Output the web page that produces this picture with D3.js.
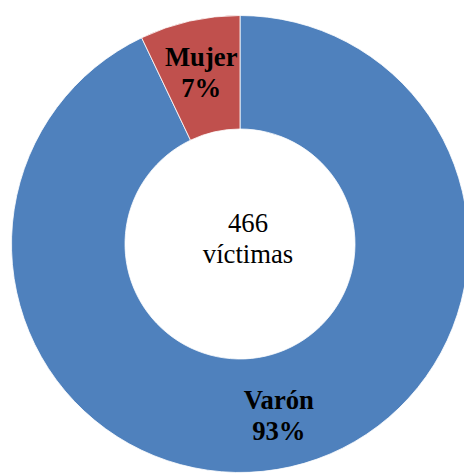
<!DOCTYPE html>
<html>
<head>
<meta charset="utf-8">
<script src="https://cdn.jsdelivr.net/npm/d3@7"></script>
<style>
	html, body { margin: 0; padding: 0; background: #fff; overflow: hidden; }
	svg { display: block; }
</style>
</head>
<body>
<svg id="donut" width="464" height="473"></svg>
<script>
// data
const categories = ["Varón", "Mujer"];
const victims = [433, 33];
const percentLabels = ["93%", "7%"];
const centerLines = ["466", "víctimas"];
const colors = ["#4F81BD", "#C0504D"];

const width = 464, height = 473;
const cx = 240, cy = 244;
const outerR = 228.5, innerR = 115;
const serif = "'Liberation Serif', 'Times New Roman', 'DejaVu Serif', serif";

const svg = d3.select("svg#donut");
const g = svg.append("g").attr("transform", `translate(${cx},${cy})`);

const rows = categories.map((c, i) => ({ name: c, value: victims[i], pct: percentLabels[i], color: colors[i] }));

// excel style: starts at 12 o'clock, clockwise, no sorting
const pie = d3.pie().sort(null).value((d) => d.value);
const arc = d3.arc().innerRadius(innerR).outerRadius(outerR);
const labelArc = d3.arc().innerRadius(outerR * 0.77).outerRadius(outerR * 0.77);

const arcs = pie(rows);

g.selectAll("path.slice")
	.data(arcs)
	.join("path")
	.classed("slice", true)
	.attr("d", arc)
	.style("fill", (d) => d.data.color)
	.style("stroke", "#fff")
	.style("stroke-width", 0.8);

// two line labels, name then percent
const labels = g.selectAll("text.slice-label")
	.data(arcs)
	.join("text")
	.classed("slice-label", true)
	.attr("font-family", serif)
	.attr("font-weight", "bold")
	.attr("font-size", 26.7)
	.attr("fill", "#000")
	.attr("text-anchor", "middle")
	.attr("transform", (d) => {
		let [x, y] = labelArc.centroid(d);
		return `translate(${x} ${y})`;
	});
labels.append("tspan").attr("x", 0).attr("y", -6.5).text((d) => d.data.name);
labels.append("tspan").attr("x", 0).attr("y", 24.5).text((d) => d.data.pct);

// text in the hole
const center = g.append("text")
	.classed("center-label", true)
	.attr("font-family", serif)
	.attr("font-size", 26.7)
	.attr("fill", "#000")
	.attr("text-anchor", "middle");
center.selectAll("tspan")
	.data(centerLines)
	.join("tspan")
	.attr("x", 8)
	.attr("y", (d, i) => -12 + i * 30.5)
	.text((d) => d);
</script>
</body>
</html>
